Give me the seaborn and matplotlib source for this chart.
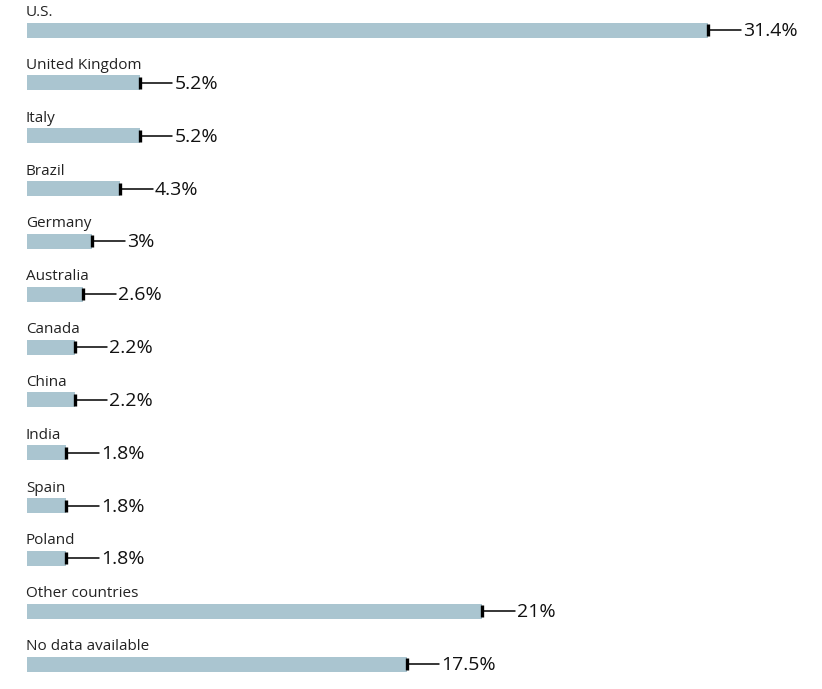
import matplotlib
matplotlib.use("Agg")
import matplotlib.pyplot as plt
import seaborn as sns
import pandas as pd

# share of visitors by country
countries = ["U.S.", "United Kingdom", "Italy", "Brazil", "Germany", "Australia",
             "Canada", "China", "India", "Spain", "Poland", "Other countries",
             "No data available"]
shares = [31.4, 5.2, 5.2, 4.3, 3.0, 2.6, 2.2, 2.2, 1.8, 1.8, 1.8, 21.0, 17.5]
value_labels = ["31.4%", "5.2%", "5.2%", "4.3%", "3%", "2.6%", "2.2%", "2.2%",
                "1.8%", "1.8%", "1.8%", "21%", "17.5%"]

bar_color = "#aac5d0"

df = pd.DataFrame({"country": countries, "share": shares})

sns.set_theme(style="white")
plt.rcParams["font.family"] = ["Open Sans", "DejaVu Sans"]

fig = plt.figure(figsize=(8.22, 6.89), dpi=100)
ax = fig.add_axes([27 / 822, 0, 795 / 822, 1])

sns.barplot(data=df, x="share", y="country", orient="h", color=bar_color,
            width=0.284, saturation=1, linewidth=0, ax=ax)

# connector line + tick at bar end, then the value label
for i, (v, lab, name) in enumerate(zip(shares, value_labels, countries)):
    ax.plot([v, v + 1.5], [i, i], color="black", lw=1.1, zorder=3)
    ax.plot([v], [i], marker="|", color="black", markersize=9, mew=2.4, zorder=4)
    ax.text(v + 1.6, i + 0.02, lab, va="center", ha="left", fontsize=14, color="#111111")
    ax.text(-0.05, i - 0.33, name, va="center", ha="left", fontsize=11, color="#222222")

ax.set_xlim(0, 795 / 21.69)
ax.set_ylim(12.473, -0.568)
ax.set_xlabel("")
ax.set_ylabel("")
ax.set_xticks([])
ax.set_yticks([])
sns.despine(ax=ax, left=True, bottom=True)

fig.savefig("out.png", dpi=100)
